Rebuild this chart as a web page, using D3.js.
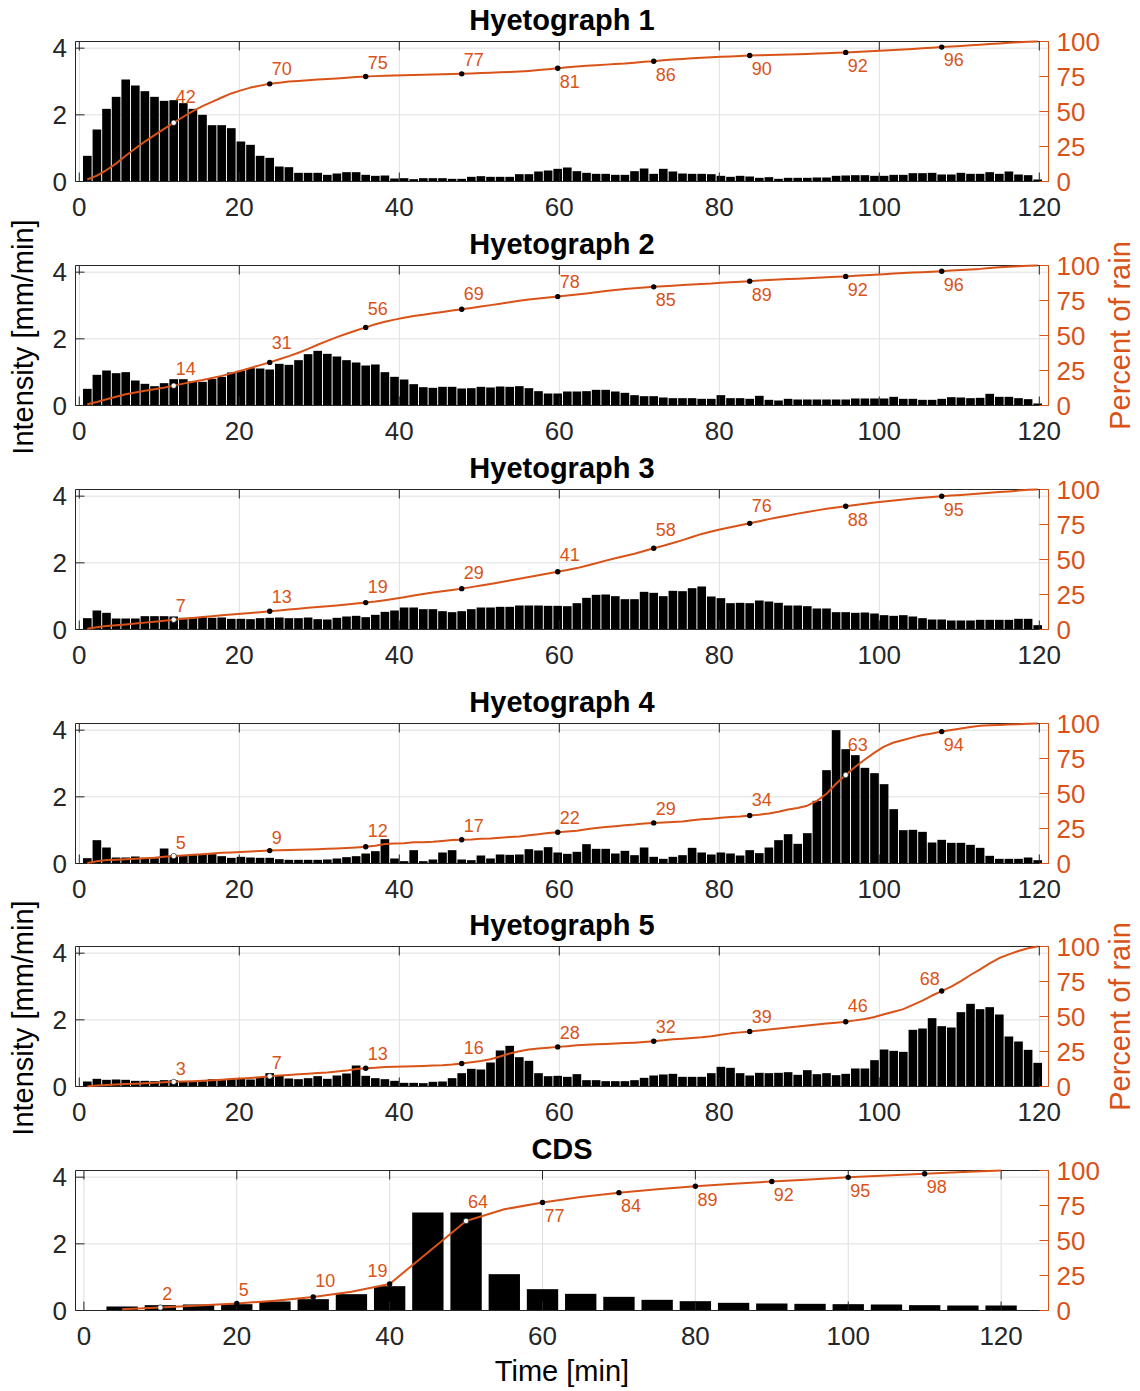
<!DOCTYPE html>
<html>
<head>
<meta charset="utf-8">
<script src="https://cdn.jsdelivr.net/npm/d3@7"></script>
<style>
  body { margin: 0; background: #fff; }
  text { font-family: "Liberation Sans", Arial, Helvetica, sans-serif; }
</style>
</head>
<body>
<svg id="chart" width="1140" height="1391"></svg>
<script>
// ---- Rain intensity per time step [mm/min] ----
const hyeto1 = [0.77,1.56,2.18,2.54,3.06,2.88,2.71,2.54,2.42,2.44,
  2.35,2.18,2.00,1.69,1.69,1.60,1.20,1.10,0.77,0.71,
  0.45,0.43,0.26,0.26,0.26,0.20,0.24,0.28,0.28,0.20,
  0.17,0.18,0.09,0.10,0.07,0.10,0.10,0.10,0.08,0.08,
  0.14,0.16,0.14,0.14,0.14,0.22,0.22,0.30,0.33,0.38,
  0.42,0.31,0.26,0.23,0.23,0.20,0.20,0.31,0.39,0.23,
  0.38,0.30,0.24,0.23,0.23,0.22,0.17,0.14,0.17,0.15,
  0.11,0.13,0.08,0.11,0.11,0.11,0.12,0.12,0.17,0.18,
  0.19,0.19,0.17,0.17,0.20,0.20,0.25,0.25,0.26,0.21,
  0.21,0.26,0.23,0.23,0.28,0.23,0.30,0.21,0.19,0.06];

const hyeto2 = [0.50,0.92,1.05,0.97,1.00,0.75,0.65,0.58,0.67,0.79,
  0.79,0.72,0.71,0.80,0.86,0.99,1.04,1.12,1.11,1.08,
  1.25,1.22,1.36,1.54,1.64,1.55,1.47,1.36,1.29,1.20,
  1.23,1.00,0.86,0.78,0.64,0.55,0.53,0.56,0.56,0.51,
  0.52,0.56,0.54,0.57,0.56,0.58,0.52,0.43,0.36,0.36,
  0.42,0.42,0.43,0.47,0.47,0.42,0.38,0.31,0.28,0.28,
  0.24,0.22,0.22,0.22,0.20,0.20,0.31,0.22,0.22,0.20,
  0.29,0.17,0.15,0.20,0.18,0.18,0.18,0.18,0.18,0.18,
  0.21,0.21,0.21,0.21,0.26,0.20,0.20,0.17,0.17,0.20,
  0.25,0.24,0.22,0.23,0.35,0.26,0.26,0.22,0.19,0.06];

const hyeto3 = [0.34,0.57,0.50,0.33,0.33,0.33,0.40,0.40,0.40,0.39,
  0.35,0.36,0.37,0.35,0.36,0.32,0.32,0.31,0.34,0.35,
  0.36,0.34,0.34,0.36,0.31,0.30,0.35,0.39,0.41,0.37,
  0.44,0.53,0.57,0.66,0.66,0.61,0.61,0.55,0.52,0.55,
  0.61,0.66,0.66,0.68,0.68,0.72,0.72,0.72,0.71,0.71,
  0.70,0.79,0.95,1.04,1.05,1.00,0.91,0.91,1.13,1.10,
  1.00,1.16,1.15,1.24,1.29,0.99,0.94,0.79,0.80,0.79,
  0.87,0.84,0.80,0.72,0.72,0.70,0.63,0.63,0.52,0.52,
  0.50,0.51,0.48,0.43,0.41,0.43,0.39,0.34,0.30,0.30,
  0.27,0.27,0.27,0.29,0.29,0.29,0.29,0.32,0.32,0.13];

const hyeto4 = [0.16,0.70,0.48,0.18,0.18,0.21,0.17,0.16,0.45,0.24,
  0.24,0.25,0.28,0.28,0.22,0.17,0.20,0.18,0.17,0.17,
  0.13,0.11,0.11,0.11,0.11,0.12,0.15,0.19,0.22,0.30,
  0.37,0.73,0.15,0.07,0.40,0.07,0.12,0.33,0.40,0.12,
  0.10,0.24,0.15,0.27,0.26,0.27,0.43,0.39,0.49,0.33,
  0.29,0.35,0.58,0.44,0.44,0.30,0.38,0.25,0.48,0.20,
  0.14,0.20,0.25,0.47,0.33,0.27,0.33,0.30,0.24,0.40,
  0.31,0.48,0.70,0.88,0.59,0.91,1.88,2.80,4.00,3.43,
  3.25,2.87,2.71,2.38,1.63,1.00,1.01,0.95,0.63,0.71,
  0.62,0.62,0.56,0.47,0.23,0.14,0.14,0.14,0.18,0.10];

const hyeto5 = [0.15,0.23,0.20,0.21,0.20,0.17,0.17,0.16,0.19,0.19,
  0.15,0.15,0.16,0.22,0.22,0.23,0.23,0.21,0.29,0.40,
  0.32,0.24,0.22,0.25,0.31,0.23,0.33,0.39,0.63,0.32,
  0.25,0.22,0.17,0.11,0.11,0.10,0.14,0.15,0.25,0.40,
  0.53,0.51,0.72,1.08,1.22,0.88,0.77,0.40,0.31,0.32,
  0.29,0.37,0.19,0.19,0.16,0.16,0.16,0.19,0.26,0.33,
  0.36,0.38,0.29,0.29,0.29,0.40,0.59,0.56,0.40,0.33,
  0.41,0.40,0.41,0.43,0.35,0.49,0.37,0.40,0.34,0.38,
  0.54,0.54,0.79,1.11,1.07,1.04,1.70,1.74,2.05,1.81,
  1.77,2.23,2.48,2.32,2.38,2.16,1.50,1.35,1.10,0.71];

const cdsIntensity = [0.12,0.16,0.18,0.19,0.27,0.34,0.49,0.73,2.94,2.94,1.09,0.64,
  0.50,0.41,0.32,0.28,0.23,0.21,0.20,0.19,0.18,0.16,0.15,0.15];

// ---- Time stepping (bar centres, minutes) ----
const hyetoStart = 1.0, hyetoStep = 1.2;
const cdsStart = 5, cdsStep = 5;

// ---- Titles and ticks ----
const titles = ["Hyetograph 1", "Hyetograph 2", "Hyetograph 3", "Hyetograph 4", "Hyetograph 5", "CDS"];
const xTickValues = [0, 20, 40, 60, 80, 100, 120];
const leftTickValues = [0, 2, 4];
const rightTickValues = [0, 25, 50, 75, 100];

// ---- Layout ----
const orange = "#D95319", axisColor = "#262626", gridColor = "#dfdfdf";
const L = 75.5, R = 1048.5, H = 140;
const panelTops = [41.5, 265.5, 489.5, 723.5, 946.5, 1170.5];
// a = above right, b = below right, L = above left
const labelSides = ["aaaabbbbb", "aaaaabbbb", "aaaaaaabb", "aaaaaaaab", "aaaaaaaaL", "aaaLabbbbbb"];
const yLabelPanels = [1, 4];

const series = [hyeto1, hyeto2, hyeto3, hyeto4, hyeto5, cdsIntensity];
const panels = series.map((vals, i) => {
  const isCds = i === 5;
  return {
    title: titles[i],
    values: vals,
    start: isCds ? cdsStart : hyetoStart,
    step: isCds ? cdsStep : hyetoStep,
    markEvery: isCds ? 2 : 10,
    barFrac: isCds ? 0.82 : 0.9,
    domain: isCds ? [-1.1, 126.2] : [-0.475, 121.15],
    sides: labelSides[i]
  };
});

const svg = d3.select("#chart");

panels.forEach((p, pi) => {
  const top = panelTops[pi], bottom = top + H;
  const x = d3.scaleLinear().domain(p.domain).range([L, R]);
  const yL = d3.scaleLinear().domain([0, 4.2]).range([bottom, top]);
  const yR = d3.scaleLinear().domain([0, 100]).range([bottom, top]);
  const g = svg.append("g");

  // grid
  g.selectAll(null).data(xTickValues).join("line")
    .attr("x1", d => x(d)).attr("x2", d => x(d))
    .attr("y1", top).attr("y2", bottom)
    .attr("stroke", gridColor).attr("stroke-width", 1);
  g.selectAll(null).data(leftTickValues.filter(v => v > 0)).join("line")
    .attr("x1", L).attr("x2", R)
    .attr("y1", d => yL(d)).attr("y2", d => yL(d))
    .attr("stroke", gridColor).attr("stroke-width", 1);

  // bars
  const times = p.values.map((_, i) => p.start + i * p.step);
  const bw = p.step * p.barFrac;
  g.selectAll(null).data(p.values).join("rect")
    .attr("x", (d, i) => x(times[i] - bw / 2))
    .attr("width", x(bw) - x(0))
    .attr("y", d => yL(d))
    .attr("height", d => bottom - yL(d))
    .attr("fill", "#000");

  // axes box and ticks
  g.append("line").attr("x1", L).attr("x2", R).attr("y1", top).attr("y2", top)
    .attr("stroke", axisColor);
  g.append("line").attr("x1", L).attr("x2", R).attr("y1", bottom).attr("y2", bottom)
    .attr("stroke", axisColor);
  g.append("line").attr("x1", L).attr("x2", L).attr("y1", top).attr("y2", bottom)
    .attr("stroke", axisColor);
  g.append("line").attr("x1", R).attr("x2", R).attr("y1", top).attr("y2", bottom)
    .attr("stroke", orange);
  const tl = 9;
  g.selectAll(null).data(xTickValues).join("line")
    .attr("x1", d => x(d)).attr("x2", d => x(d)).attr("y1", bottom).attr("y2", bottom - tl)
    .attr("stroke", axisColor);
  g.selectAll(null).data(xTickValues).join("line")
    .attr("x1", d => x(d)).attr("x2", d => x(d)).attr("y1", top).attr("y2", top + tl)
    .attr("stroke", axisColor);
  g.selectAll(null).data(leftTickValues).join("line")
    .attr("x1", L).attr("x2", L + tl).attr("y1", d => yL(d)).attr("y2", d => yL(d))
    .attr("stroke", axisColor);
  g.selectAll(null).data(rightTickValues).join("line")
    .attr("x1", R).attr("x2", R - tl).attr("y1", d => yR(d)).attr("y2", d => yR(d))
    .attr("stroke", orange);

  // tick labels
  const tickFont = 26, tickShift = tickFont * 0.358;
  g.selectAll(null).data(xTickValues).join("text")
    .attr("x", d => x(d)).attr("y", bottom + 25 + tickShift)
    .attr("text-anchor", "middle").attr("font-size", tickFont).attr("fill", axisColor)
    .text(d => d);
  g.selectAll(null).data(leftTickValues).join("text")
    .attr("x", 67).attr("y", d => yL(d) + tickShift)
    .attr("text-anchor", "end").attr("font-size", tickFont).attr("fill", axisColor)
    .text(d => d);
  g.selectAll(null).data(rightTickValues).join("text")
    .attr("x", 1056.5).attr("y", d => yR(d) + tickShift)
    .attr("text-anchor", "start").attr("font-size", tickFont).attr("fill", orange)
    .text(d => d);

  // title
  g.append("text").attr("x", (L + R) / 2).attr("y", top - 11.5)
    .attr("text-anchor", "middle").attr("font-size", 29).attr("font-weight", "bold")
    .attr("fill", "#000").text(p.title);

  // cumulative percentage of rain
  const total = d3.sum(p.values);
  const cum = Array.from(d3.cumsum(p.values), c => c / total * 100);
  const pts = times.map((t, i) => [x(t), yR(cum[i])]);
  g.append("path").attr("d", d3.line()(pts))
    .attr("fill", "none").attr("stroke", orange).attr("stroke-width", 2)
    .attr("stroke-linejoin", "round");

  const yAt = px => {
    if (px <= pts[0][0]) return pts[0][1];
    if (px >= pts[pts.length - 1][0]) return pts[pts.length - 1][1];
    for (let i = 1; i < pts.length; i++) {
      if (px <= pts[i][0]) {
        const f = (px - pts[i - 1][0]) / (pts[i][0] - pts[i - 1][0]);
        return pts[i - 1][1] + f * (pts[i][1] - pts[i - 1][1]);
      }
    }
    return pts[pts.length - 1][1];
  };

  const marks = d3.range(p.values.length)
    .filter(i => (i + 1) % p.markEvery === 0 && i < p.values.length - 1);

  marks.forEach((i, mi) => {
    const mx = pts[i][0], my = pts[i][1];
    const side = p.sides[mi];
    const lbl = g.append("text").attr("font-size", 18).attr("fill", orange)
      .text(Math.round(cum[i]));
    const w = lbl.node().getComputedTextLength();
    const x0 = side === "L" ? mx - 2 - w : mx + 2;
    const x1 = x0 + w;
    const ys = [my];
    for (let s = x0; s <= x1; s += 1) ys.push(yAt(s));
    ys.push(yAt(x1));
    let base;
    if (side === "b") base = d3.max(ys) + 6.5 + 18 * 0.716;
    else base = d3.min(ys) - 6.5;
    lbl.attr("x", x0).attr("y", base);

    const inside = yL(p.values[i]) <= my + 0.5;
    g.append("circle").attr("cx", mx).attr("cy", my).attr("r", 2.7)
      .attr("fill", inside ? "#fff" : "#000")
      .attr("stroke", inside ? "#000" : "none").attr("stroke-width", 0.6);
  });

  // axis titles
  if (yLabelPanels.includes(pi)) {
    const cy = (top + bottom) / 2;
    svg.append("text").attr("transform", `translate(33,${cy + 1.5}) rotate(-90)`)
      .attr("text-anchor", "middle").attr("font-size", 29).attr("fill", "#000")
      .text("Intensity [mm/min]");
    svg.append("text").attr("transform", `translate(1130,${cy}) rotate(-90)`)
      .attr("text-anchor", "middle").attr("font-size", 29).attr("fill", orange)
      .text("Percent of rain");
  }
});

svg.append("text").attr("x", (L + R) / 2).attr("y", 1381)
  .attr("text-anchor", "middle").attr("font-size", 29).attr("fill", "#000")
  .text("Time [min]");
</script>
</body>
</html>
